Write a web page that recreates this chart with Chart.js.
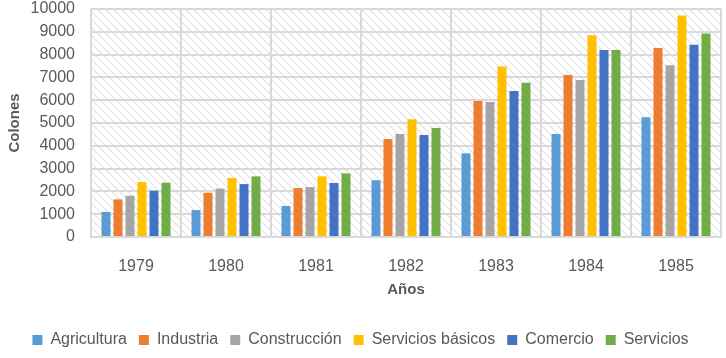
<!DOCTYPE html>
<html>
<head>
<meta charset="utf-8">
<script src="https://cdn.jsdelivr.net/npm/chart.js@4"></script>
<style>
  html, body { margin: 0; padding: 0; background: #fff; }
  #wrap { width: 726px; height: 358px; }
</style>
</head>
<body>
<div id="wrap"><canvas id="chart"></canvas></div>
<script>
const years = ['1979', '1980', '1981', '1982', '1983', '1984', '1985'];
const agricultura = [1100, 1180, 1360, 2490, 3670, 4520, 5250];
const industria = [1650, 1940, 2150, 4300, 5960, 7100, 8290];
const construccion = [1810, 2120, 2190, 4520, 5920, 6890, 7530];
const serviciosBasicos = [2410, 2590, 2660, 5160, 7480, 8850, 9710];
const comercio = [2030, 2320, 2370, 4470, 6400, 8200, 8430];
const servicios = [2380, 2660, 2790, 4780, 6770, 8200, 8930];

const FONT = 'Liberation Sans';
const TEXT = '#595959';

// diagonal hatch behind the bars
const hatchPlugin = {
  id: 'hatch',
  beforeDraw(chart) {
    const { ctx, chartArea: a } = chart;
    const tile = document.createElement('canvas');
    tile.width = 8; tile.height = 8;
    const t = tile.getContext('2d');
    t.strokeStyle = '#e2e2e2';
    t.lineWidth = 1.2;
    t.beginPath();
    t.moveTo(-1, -1); t.lineTo(9, 9);
    t.moveTo(-1, 7); t.lineTo(1, 9);
    t.moveTo(7, -1); t.lineTo(9, 1);
    t.stroke();
    ctx.save();
    ctx.fillStyle = ctx.createPattern(tile, 'repeat');
    ctx.fillRect(a.left, a.top, a.right - a.left, a.bottom - a.top);
    ctx.restore();
  }
};

const mk = (label, data, color) => ({ label, data, backgroundColor: color, borderWidth: 0 });

new Chart(document.getElementById('chart'), {
  type: 'bar',
  data: {
    labels: years,
    datasets: [
      mk('Agricultura', agricultura, '#5B9BD5'),
      mk('Industria', industria, '#ED7D31'),
      mk('Construcción', construccion, '#A5A5A5'),
      mk('Servicios básicos', serviciosBasicos, '#FFC000'),
      mk('Comercio', comercio, '#4472C4'),
      mk('Servicios', servicios, '#70AD47')
    ]
  },
  options: {
    responsive: true,
    maintainAspectRatio: false,
    animation: false,
    layout: { padding: { left: 0, right: 5, top: 0, bottom: 0 } },
    datasets: { bar: { categoryPercentage: 0.8, barPercentage: 0.75 } },
    plugins: {
      legend: {
        position: 'bottom',
        labels: {
          color: TEXT,
          font: { family: FONT, size: 16 },
          boxWidth: 10, boxHeight: 10,
          padding: 12
        }
      },
      tooltip: { enabled: false }
    },
    scales: {
      x: {
        afterFit(scale) { scale.height = 83; },
        grid: { color: '#d9d9d9', lineWidth: 2, drawTicks: false },
        border: { color: '#d9d9d9', width: 2 },
        ticks: { color: TEXT, font: { family: FONT, size: 16 }, padding: 20, autoSkip: false },
        title: { display: true, text: 'Años', color: TEXT, font: { family: FONT, size: 15, weight: 'bold' }, padding: { top: 0, bottom: 21 } }
      },
      y: {
        min: 0, max: 10000,
        afterFit(scale) { scale.width = 91; scale.paddingTop = 9; },
        grid: { color: '#d9d9d9', lineWidth: 2, drawTicks: false },
        border: { color: '#d9d9d9', width: 2 },
        ticks: {
          stepSize: 1000, color: TEXT, font: { family: FONT, size: 16 }, padding: 16, autoSkip: false,
          callback: v => String(v)
        },
        title: { display: true, text: 'Colones', color: TEXT, font: { family: FONT, size: 15, weight: 'bold' }, padding: { top: 6, bottom: 0 } }
      }
    }
  },
  plugins: [hatchPlugin]
});
</script>
</body>
</html>
